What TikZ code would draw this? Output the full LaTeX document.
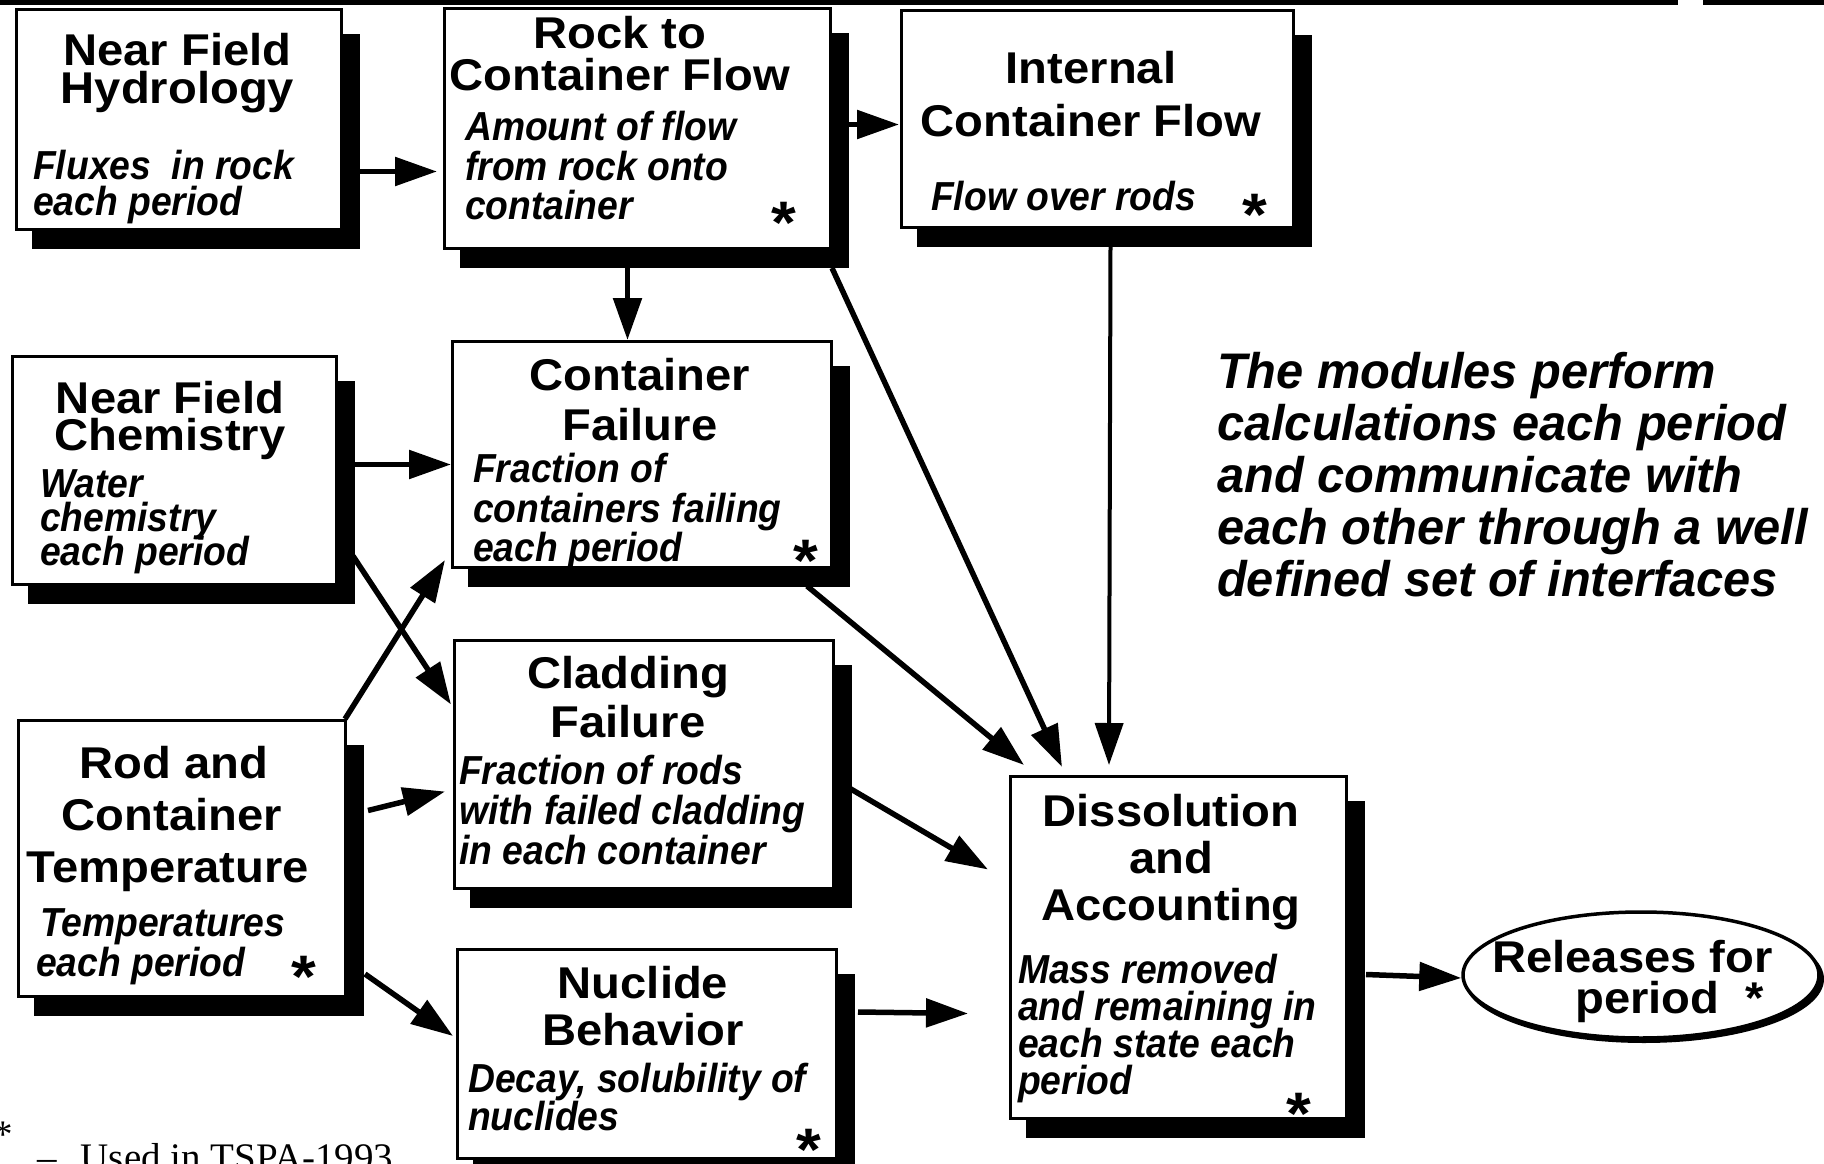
\documentclass[tikz,border=0pt]{standalone}
\usepackage{fontspec}
\setmainfont{Liberation Sans}
\newfontfamily\ttlfont[FakeStretch=1.06]{Liberation Sans}
\newfontfamily\subfont[FakeStretch=0.92]{Liberation Sans}
\newfontfamily\parafont[FakeStretch=0.975]{Liberation Sans}
\newfontfamily\notefont{Liberation Serif}
\usetikzlibrary{arrows.meta,backgrounds,shapes.geometric}
\begin{document}
\begin{tikzpicture}[x=1pt,y=-1pt,
  box/.style={draw,line width=3pt,fill=white,inner sep=0pt,anchor=north west},
  ttl/.style={font=\ttlfont\bfseries\fontsize{44.5}{44}\selectfont,inner sep=0pt,anchor=base},
  sub/.style={font=\subfont\bfseries\itshape\fontsize{40.5}{40}\selectfont,inner sep=0pt,anchor=base west},
  para/.style={font=\parafont\bfseries\itshape\fontsize{50}{50}\selectfont,inner sep=0pt,anchor=base west},
  star/.style={font=\ttlfont\bfseries\fontsize{60}{60}\selectfont,inner sep=0pt,anchor=base},
  note/.style={font=\notefont\fontsize{39}{39}\selectfont,inner sep=0pt},
  arr/.style={line width=5.5pt,-{Triangle[length=42pt,width=28pt]}},
  rule/.style={line width=5pt}
]
\useasboundingbox (0,0) rectangle (1824,1164);

% top rule
\draw[rule] (0,2.5) -- (1678,2.5);
\draw[rule] (1703,2.5) -- (1824,2.5);

% boxes
\node[box,minimum width=325pt,minimum height=220pt] (A) at (15,8) {};
\node[box,minimum width=386pt,minimum height=240pt] (B) at (443,7) {};
\node[box,minimum width=392pt,minimum height=217pt] (C) at (900,9) {};
\node[box,minimum width=324pt,minimum height=228pt] (D) at (11,355) {};
\node[box,minimum width=379pt,minimum height=226pt] (E) at (451,340) {};
\node[box,minimum width=379pt,minimum height=248pt] (F) at (453,639) {};
\node[box,minimum width=327pt,minimum height=276pt] (G) at (17,719) {};
\node[box,minimum width=379pt,minimum height=209pt] (H) at (456,948) {};
\node[box,minimum width=336pt,minimum height=342pt] (I) at (1009,775) {};
\node[draw,ellipse,line width=3.5pt,fill=white,minimum width=356pt,minimum height=126pt,inner sep=0pt] (R) at (1641,975) {};

\begin{scope}[on background layer]
\foreach \n in {A,B,C,D,E,F,G,H,I}
  \fill ([shift={(17,26)}]\n.north west) rectangle ([shift={(17,18)}]\n.south east);
\fill ([shift={(3,4)}]R.center) ellipse [x radius=180pt, y radius=64pt];
\end{scope}

% Near Field Hydrology
\node[ttl] (At1) at (177.5,66) {Near Field};
\node[ttl] (At2) at (177.5,103) {Hydrology};
\node[sub] (As1) at (33,179) {Fluxes\ \ in rock};
\node[sub] (As2) at (33,215) {each period};

% Rock to Container Flow
\node[ttl] (Bt1) at (620,49) {Rock to};
\node[ttl] (Bt2) at (620,91) {Container Flow};
\node[sub] (Bs1) at (465,140) {Amount of flow};
\node[sub] (Bs2) at (465,180) {from rock onto};
\node[sub] (Bs3) at (465,219) {container};
\node[star] (Bx) at (784,243) {*};

% Internal Container Flow
\node[ttl] (Ct1) at (1091,84) {Internal};
\node[ttl] (Ct2) at (1091,136) {Container Flow};
\node[sub] (Cs1) at (931,210) {Flow over rods};
\node[star] (Cx) at (1255,235) {*};

% Near Field Chemistry
\node[ttl] (Dt1) at (170,413) {Near Field};
\node[ttl] (Dt2) at (170,450) {Chemistry};
\node[sub] (Ds1) at (40,497) {Water};
\node[sub] (Ds2) at (40,531) {chemistry};
\node[sub] (Ds3) at (40,565) {each period};

% Container Failure
\node[ttl] (Et1) at (640,390) {Container};
\node[ttl] (Et2) at (640,440) {Failure};
\node[sub] (Es1) at (473,482) {Fraction of};
\node[sub] (Es2) at (473,522) {containers failing};
\node[sub] (Es3) at (473,561) {each period};
\node[star] (Ex) at (806,581) {*};

% Cladding Failure
\node[ttl] (Ft1) at (628,688) {Cladding};
\node[ttl] (Ft2) at (628,737) {Failure};
\node[sub] (Fs1) at (459,784) {Fraction of rods};
\node[sub] (Fs2) at (459,824) {with failed cladding};
\node[sub] (Fs3) at (459,864) {in each container};

% Rod and Container Temperature
\node[ttl] (Gt1) at (174,778) {Rod and};
\node[ttl] (Gt2) at (172,830) {Container};
\node[ttl] (Gt3) at (168,882) {Temperature};
\node[sub] (Gs1) at (40,936) {Temperatures};
\node[sub] (Gs2) at (36,976) {each period};
\node[star] (Gx) at (304,997) {*};

% Nuclide Behavior
\node[ttl] (Ht1) at (643,998) {Nuclide};
\node[ttl] (Ht2) at (643,1045) {Behavior};
\node[sub] (Hs1) at (468,1092) {Decay, solubility of};
\node[sub] (Hs2) at (468,1130) {nuclides};
\node[star] (Hx) at (809,1170) {*};

% Dissolution and Accounting
\node[ttl] (It1) at (1171,826) {Dissolution};
\node[ttl] (It2) at (1171,873) {and};
\node[ttl] (It3) at (1171,920) {Accounting};
\node[sub] (Is1) at (1018,983) {Mass removed};
\node[sub] (Is2) at (1018,1020) {and remaining in};
\node[sub] (Is3) at (1018,1057) {each state each};
\node[sub] (Is4) at (1018,1094) {period};
\node[star] (Ix) at (1299,1134) {*};

% Releases
\node[ttl,anchor=base west] (Rt1) at (1492,972) {Releases for};
\node[ttl,anchor=base west] (Rt2) at (1575,1013) {period\ \ *};

% paragraph
\node[para] (P1) at (1217,388) {The modules perform};
\node[para] (P2) at (1217,440) {calculations each period};
\node[para] (P3) at (1217,492) {and communicate with};
\node[para] (P4) at (1217,544) {each other through a well};
\node[para] (P5) at (1217,596) {defined set of interfaces};

% footnote
\node[note,anchor=base] (N0) at (3,1147) {*};
\node[note,anchor=base west] (N1) at (37,1170) {–\hspace{24pt}Used in TSPA-1993};

% arrows
\draw[arr] ([shift={(15,52)}]A.east) -- ([shift={(-6,43)}]B.west);
\draw[arr] ([shift={(14,-4)}]B.east) -- ([shift={(-1,5.5)}]C.west);
\draw[arr] ([shift={(-10,15)}]B.south) -- ([shift={(-14.5,0)}]E.north);
\draw[arr] ([shift={(0,18)}]B.south east) -- ([shift={(53,-8)}]I.north west);
\draw[arr,line width=4pt] ([shift={(13,17)}]C.south) -- ([shift={(100,-10)}]I.north west);
\draw[arr] ([shift={(15,-6)}]D.east) -- ([shift={(0,10)}]E.west);
\draw[arr] ([shift={(15,-30)}]D.south east) -- ([shift={(-2,-60)}]F.west);
\draw[arr] ([shift={(-2,0)}]G.north east) -- ([shift={(-6,-9)}]E.south west);
\draw[arr] ([shift={(21,-48)}]G.east) -- ([shift={(-8,27)}]F.west);
\draw[arr] ([shift={(18,-24)}]G.south east) -- ([shift={(-3,-18)}]H.west);
\draw[arr] ([shift={(-26,17)}]E.south east) -- ([shift={(15,-10)}]I.north west);
\draw[arr] ([shift={(15,24)}]F.east) -- ([shift={(-21,-78)}]I.west);
\draw[arr] ([shift={(20,-42)}]H.east) -- ([shift={(-41,66)}]I.west);
\draw[arr] ([shift={(18,27)}]I.east) -- ([shift={(0,3)}]R.west);
\end{tikzpicture}
\end{document}
